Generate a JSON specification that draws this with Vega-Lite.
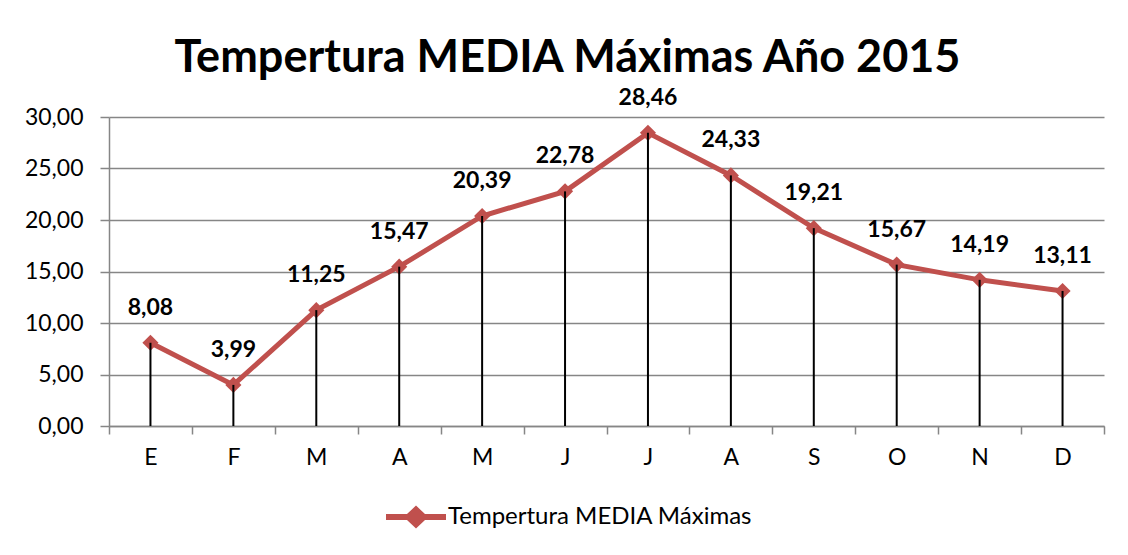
{
  "$schema": "https://vega.github.io/schema/vega-lite/v6.json",
  "autosize": {"type": "none"},
  "width": 995,
  "height": 309,
  "padding": {"left": 109, "top": 117, "right": 24, "bottom": 129},
  "background": "white",
  "config": {
    "locale": {"number": {"decimal": ",", "thousands": ".", "grouping": [3], "currency": ["", " €"]}},
    "font": "Lato",
    "view": {"stroke": null}
  },
  "title": {
    "text": "Tempertura MEDIA Máximas Año 2015",
    "font": "Lato",
    "fontSize": 45,
    "fontWeight": "bold",
    "color": "#000000",
    "anchor": "middle",
    "frame": "group",
    "dx": -39,
    "offset": 6
  },
  "data": {
    "values": [
      {"k": "E", "v": 8.08, "serie": "Tempertura MEDIA Máximas"},
      {"k": "F", "v": 3.99, "serie": "Tempertura MEDIA Máximas"},
      {"k": "M1", "v": 11.25, "serie": "Tempertura MEDIA Máximas"},
      {"k": "A1", "v": 15.47, "serie": "Tempertura MEDIA Máximas"},
      {"k": "M2", "v": 20.39, "serie": "Tempertura MEDIA Máximas"},
      {"k": "J1", "v": 22.78, "serie": "Tempertura MEDIA Máximas"},
      {"k": "J2", "v": 28.46, "serie": "Tempertura MEDIA Máximas"},
      {"k": "A2", "v": 24.33, "serie": "Tempertura MEDIA Máximas"},
      {"k": "S", "v": 19.21, "serie": "Tempertura MEDIA Máximas"},
      {"k": "O", "v": 15.67, "serie": "Tempertura MEDIA Máximas"},
      {"k": "N", "v": 14.19, "serie": "Tempertura MEDIA Máximas"},
      {"k": "D", "v": 13.11, "serie": "Tempertura MEDIA Máximas"}
    ]
  },
  "encoding": {
    "x": {
      "field": "k", "type": "nominal", "sort": null,
      "scale": {"paddingInner": 0, "paddingOuter": 0},
      "axis": {
        "title": null, "labelAngle": 0, "labelExpr": "substring(datum.label, 0, 1)",
        "labelFont": "Lato", "labelFontSize": 23, "labelColor": "#000000", "labelPadding": 12,
        "tickBand": "extent", "tickSize": 8, "tickColor": "#868686", "tickWidth": 1.5,
        "domainColor": "#868686", "domainWidth": 1.5, "grid": false
      }
    },
    "y": {
      "field": "v", "type": "quantitative",
      "scale": {"domain": [0, 30]},
      "axis": {
        "title": null, "values": [0, 5, 10, 15, 20, 25, 30], "format": ".2f",
        "labelFont": "Lato", "labelFontSize": 23, "labelColor": "#000000", "labelPadding": 17,
        "tickSize": 9, "tickColor": "#868686", "tickWidth": 1.5,
        "domainColor": "#868686", "domainWidth": 1.5,
        "grid": true, "gridColor": "#868686", "gridWidth": 1.5
      }
    }
  },
  "layer": [
    {
      "mark": {"type": "line", "strokeWidth": 5},
      "encoding": {
        "color": {
          "field": "serie", "type": "nominal",
          "scale": {"range": ["#C0504D"]},
          "legend": {
            "title": null, "orient": "none", "legendX": 277, "legendY": 370, "padding": 0,
            "symbolType": "M-1,-0.1L-0.3,-0.1L0,-0.38L0.3,-0.1L1,-0.1L1,0.1L0.3,0.1L0,0.38L-0.3,0.1L-1,0.1Z",
            "symbolSize": 3600, "symbolStrokeWidth": 0, "symbolFillColor": "#C0504D",
            "labelFont": "Lato", "labelFontSize": 24, "labelColor": "#000000", "labelOffset": 2, "labelLimit": 0
          }
        }
      }
    },
    {
      "mark": {"type": "point", "shape": "diamond", "filled": true, "size": 260, "color": "#C0504D", "opacity": 1}
    },
    {
      "mark": {"type": "rule", "color": "#000000", "strokeWidth": 2},
      "encoding": {"y2": {"datum": 0}}
    },
    {
      "mark": {"type": "text", "font": "Lato", "fontSize": 23, "fontWeight": "bold", "color": "#000000", "baseline": "middle", "dy": -35},
      "encoding": {"text": {"field": "v", "type": "quantitative", "format": ".2f"}}
    }
  ]
}
